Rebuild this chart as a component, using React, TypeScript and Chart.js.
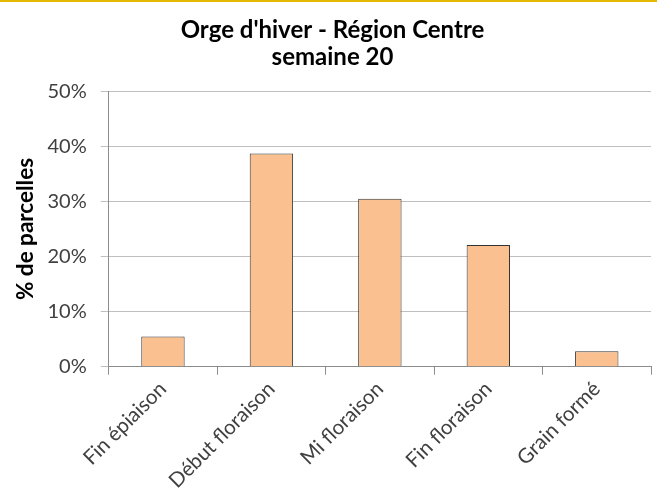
import React, { useEffect, useRef } from "react";
import { Chart, registerables } from "chart.js";

Chart.register(...registerables);

const titleLines = ["Orge d'hiver - Région Centre", "semaine 20"];
const categories = ["Fin épiaison", "Début floraison", "Mi floraison", "Fin floraison", "Grain formé"];
const values = [5.5, 38.7, 30.5, 22.1, 2.8];
const yAxisTitle = "% de parcelles";
const yMax = 50;
const yStep = 10;

export default function App() {
  const ref = useRef<HTMLCanvasElement | null>(null);
  useEffect(() => {
    if (!ref.current) return;
    const chart = new Chart(ref.current, {
      type: "bar",
      data: {
        labels: categories,
        datasets: [
          {
            data: values,
            backgroundColor: "#FAC090",
            borderColor: "#333333",
            borderWidth: 1,
            barPercentage: 0.4,
            categoryPercentage: 1,
          },
        ],
      },
      options: {
        animation: false,
        responsive: false,
        maintainAspectRatio: false,
        layout: { padding: { left: 14, right: 6, top: 16, bottom: -6 } },
        plugins: {
          legend: { display: false },
          tooltip: { enabled: false },
          title: {
            display: true,
            text: titleLines,
            color: "#000",
            font: { family: "Lato", size: 24, weight: "bold", lineHeight: 1.15 },
            padding: { top: 0, bottom: 20 },
          },
        },
        scales: {
          x: {
            grid: {
              display: true,
              drawOnChartArea: false,
              drawTicks: true,
              tickLength: 8,
              color: "#8c8c8c",
              offset: true,
            },
            border: { display: true, color: "#8c8c8c" },
            ticks: {
              color: "#404040",
              font: { family: "Lato", size: 20.5 },
              maxRotation: 45,
              minRotation: 45,
              padding: 2,
            },
          },
          y: {
            min: 0,
            max: yMax,
            grid: {
              color: "#BFBFBF",
              drawTicks: true,
              tickLength: 8,
            },
            border: { display: true, color: "#8c8c8c" },
            ticks: {
              stepSize: yStep,
              color: "#404040",
              font: { family: "Lato", size: 20 },
              padding: 14,
              callback: (v: any) => v + "%",
            },
            title: {
              display: true,
              text: yAxisTitle,
              color: "#000",
              font: { family: "Lato", size: 22.5, weight: "bold", lineHeight: 1 },
              padding: { top: 0, bottom: -3 },
            },
          },
        },
      },
    });
    return () => chart.destroy();
  }, []);
  return (
    <div style={{ position: "fixed", left: 0, top: 0, width: 657, height: 489, background: "#fff" }}>
      <div style={{ position: "absolute", left: 0, top: 0, width: 657, height: 2, background: "#E6B800" }} />
      <canvas ref={ref} width={657} height={489} style={{ position: "absolute", left: 0, top: 0, width: 657, height: 489 }} />
    </div>
  );
}
